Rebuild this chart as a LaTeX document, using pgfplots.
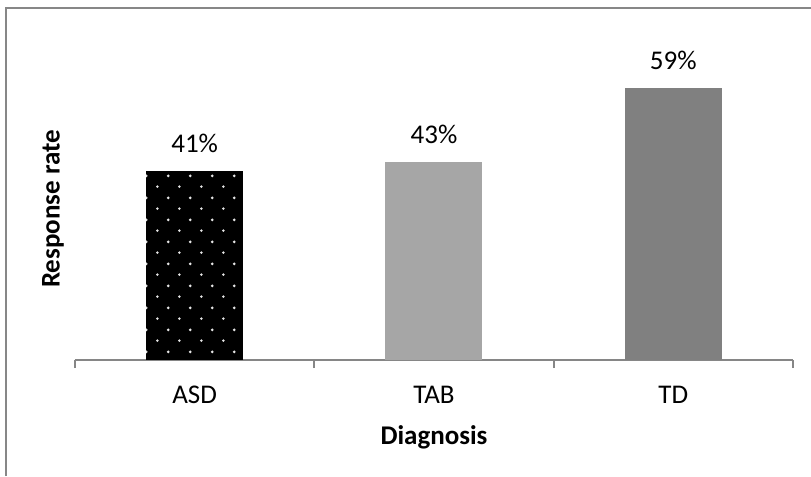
\documentclass[border=0pt]{standalone}
\usepackage{fontspec}
\setmainfont{Carlito}
\usepackage{pgfplots}
\pgfplotsset{compat=1.18}
\usetikzlibrary{patterns.meta}

\definecolor{framegray}{HTML}{878787}
\definecolor{axisgray}{HTML}{868686}
\definecolor{barlight}{HTML}{A6A6A6}
\definecolor{bardark}{HTML}{808080}

% staggered white dots on a black bar
\tikzdeclarepattern{
  name=staggerdots,
  type=uncolored,
  bounding box={(0pt,0pt) and (8.68pt,8.68pt)},
  tile size={(8.68pt,8.68pt)},
  code={
    \pgfpathcircle{\pgfqpoint{2.17pt}{2.17pt}}{0.6pt}
    \pgfpathcircle{\pgfqpoint{6.51pt}{6.51pt}}{0.6pt}
    \pgfusepath{fill}
  }
}

\newcommand{\chartfont}{\fontsize{10.8}{13}\selectfont}

\begin{document}
\begin{tikzpicture}
\path[use as bounding box] (0pt,0pt) rectangle (324.4pt,190.4pt);
% chart frame (left and top edges)
\draw[framegray, line width=0.8pt] (2.2pt,0pt) -- (2.2pt,187pt) -- (324.4pt,187pt);

\begin{axis}[
  at={(30pt,46.4pt)}, anchor=south west,
  scale only axis,
  width=287.2pt, height=129.1pt,
  xmin=-0.5, xmax=2.5,
  ymin=0, ymax=70,
  axis x line*=bottom,
  axis y line*=left,
  y axis line style={draw=none},
  x axis line style={draw=axisgray, line width=0.7pt},
  ytick=\empty,
  xtick={0,1,2},
  xticklabels={ASD,TAB,TD},
  major tick length=0pt,
  extra x ticks={-0.5,0.5,1.5,2.5},
  extra x tick labels={},
  extra x tick style={major tick length=3.2pt, tick align=outside,
    tick style={draw=axisgray, line width=0.7pt}},
  xticklabel style={anchor=base, yshift=-17.2pt, font=\chartfont},
  xlabel={Diagnosis},
  xlabel style={at={(axis description cs:0.5,0)}, anchor=base, yshift=-34pt,
    font=\chartfont\bfseries},
  ylabel={Response rate},
  ylabel style={at={(axis description cs:-0.0306,0.468)}, anchor=center,
    font=\chartfont\bfseries},
  /pgf/bar width=38.8pt,
  /pgf/bar shift=0pt,
  /pgf/number format/assume math mode=true,
  nodes near coords={\pgfmathprintnumber{\pgfplotspointmeta}\%},
  every node near coord/.append style={font=\chartfont,
    anchor=south, inner sep=0pt, yshift=7.2pt, text=black},
  clip=false,
]
\addplot[ybar, bar shift=0pt, fill=black, draw=none,
  postaction={pattern={staggerdots}, pattern color=white!90!black}]
  coordinates {(0,41)};
\addplot[ybar, bar shift=0pt, fill=barlight, draw=none]
  coordinates {(1,43)};
\addplot[ybar, bar shift=0pt, fill=bardark, draw=none]
  coordinates {(2,59)};
\end{axis}
\end{tikzpicture}
\end{document}
